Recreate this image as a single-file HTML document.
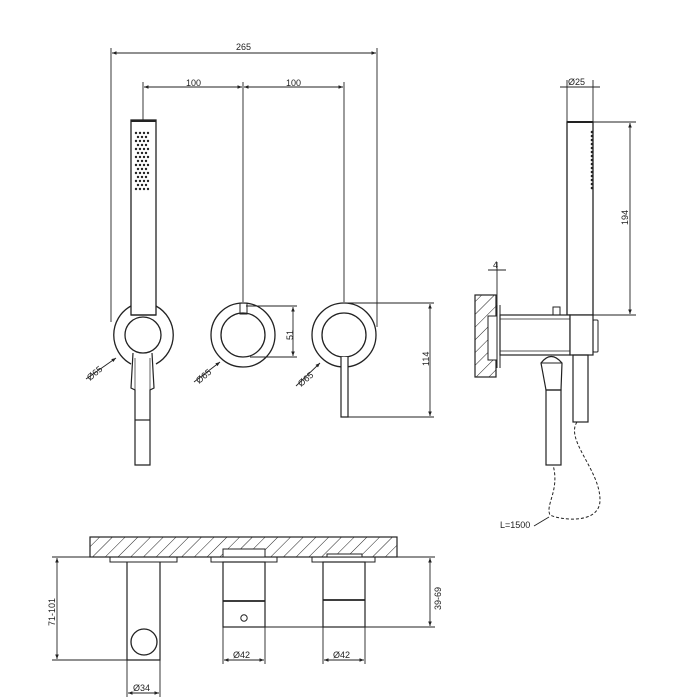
<!DOCTYPE html>
<html><head><style>html,body{margin:0;padding:0;background:#fff}svg{display:block}</style></head>
<body>
<svg width="700" height="700" viewBox="0 0 700 700" xmlns="http://www.w3.org/2000/svg" font-family="Liberation Sans, sans-serif" font-size="9" fill="none" stroke="#222" stroke-width="1.2">
<defs>
<marker id="a" viewBox="0 0 10 10" refX="10" refY="5" markerWidth="7" markerHeight="5" orient="auto-start-reverse"><path d="M0,1 L10,5 L0,9z" fill="#222" stroke="none"/></marker>
<pattern id="h" width="9" height="9" patternUnits="userSpaceOnUse" patternTransform="rotate(45)"><line x1="0" y1="0" x2="0" y2="9" stroke="#222" stroke-width="1"/></pattern>
</defs>
<g stroke-width="0.9">
<!-- top dims -->
<line x1="111" y1="48" x2="111" y2="322"/><line x1="377" y1="48" x2="377" y2="327"/>
<line x1="112" y1="53" x2="376" y2="53" marker-start="url(#a)" marker-end="url(#a)"/>
<line x1="143" y1="82" x2="143" y2="120"/><line x1="243" y1="82" x2="243" y2="302"/><line x1="344" y1="82" x2="344" y2="302"/>
<line x1="144" y1="87" x2="242" y2="87" marker-start="url(#a)" marker-end="url(#a)"/>
<line x1="244" y1="87" x2="343" y2="87" marker-start="url(#a)" marker-end="url(#a)"/>
</g>
<g fill="#222" stroke="none" font-size="9"><text x="236" y="50">265</text><text x="186" y="86">100</text><text x="286" y="86">100</text></g>
<!-- hand shower front -->
<rect x="131" y="120" width="25" height="195" stroke-width="1.3"/>
<line x1="131" y1="121" x2="156" y2="121" stroke-width="2"/>
<g fill="#222" stroke="none">
<g id="dr"><circle cx="136" cy="133" r="1.2"/><circle cx="140" cy="133" r="1.2"/><circle cx="144" cy="133" r="1.2"/><circle cx="148" cy="133" r="1.2"/><circle cx="138" cy="137" r="1.2"/><circle cx="142" cy="137" r="1.2"/><circle cx="146" cy="137" r="1.2"/></g>
<use href="#dr" y="8"/><use href="#dr" y="16"/><use href="#dr" y="24"/><use href="#dr" y="32"/><use href="#dr" y="40"/><use href="#dr" y="48"/>
<circle cx="136" cy="189" r="1.2"/><circle cx="140" cy="189" r="1.2"/><circle cx="144" cy="189" r="1.2"/><circle cx="148" cy="189" r="1.2"/>
</g>
<!-- left rosette -->
<path d="M131,306 A33,33 0 0 0 131,364 M156,306 A33,33 0 0 1 156,364" stroke-width="1.3"/>
<line x1="131" y1="315" x2="156" y2="315"/>
<circle cx="143" cy="335" r="18" fill="#fff" stroke-width="1.3"/>
<path d="M133,353 L131,388 L135,390 L135,465 L150,465 L150,390 L154,388 L152,353" stroke-width="1.2"/>
<line x1="135" y1="420" x2="150" y2="420"/>
<line x1="135" y1="358" x2="135" y2="390" stroke-width="0.7"/><line x1="150" y1="358" x2="150" y2="390" stroke-width="0.7"/>
<!-- middle rosette -->
<circle cx="243" cy="335" r="32" stroke-width="1.3"/>
<circle cx="243" cy="335" r="22" stroke-width="1.3"/>
<rect x="240" y="303" width="7" height="11" stroke-width="1"/>
<!-- right rosette -->
<circle cx="344" cy="335" r="32" stroke-width="1.3"/>
<circle cx="344" cy="335" r="22" stroke-width="1.3"/>
<path d="M341,357 L341,417 L348,417 L348,357" fill="#fff" stroke-width="1.2"/>
<!-- dims 51, 114 -->
<g stroke-width="0.9">
<line x1="246" y1="306" x2="297" y2="306"/><line x1="250" y1="357" x2="297" y2="357"/>
<line x1="293" y1="307" x2="293" y2="356" marker-start="url(#a)" marker-end="url(#a)"/>
<line x1="346" y1="303" x2="434" y2="303"/><line x1="348" y1="417" x2="434" y2="417"/>
<line x1="430" y1="304" x2="430" y2="416" marker-start="url(#a)" marker-end="url(#a)"/>
<line x1="86" y1="379" x2="116" y2="358" marker-end="url(#a)"/>
<line x1="194" y1="382" x2="220" y2="362" marker-end="url(#a)"/>
<line x1="296" y1="386" x2="320" y2="363" marker-end="url(#a)"/>
</g>
<g fill="#222" stroke="none" font-size="9">
<text transform="translate(293,340) rotate(-90)">51</text>
<text transform="translate(429,366) rotate(-90)">114</text>
<text transform="translate(90,381) rotate(-40)">Ø65</text>
<text transform="translate(199,384) rotate(-40)">Ø65</text>
<text transform="translate(301,387) rotate(-40)">Ø65</text>
</g>
<!-- side view -->
<g stroke-width="0.9">
<line x1="567" y1="80" x2="567" y2="122"/><line x1="593" y1="80" x2="593" y2="122"/>
<line x1="560" y1="87" x2="600" y2="87"/>
<line x1="593" y1="122" x2="636" y2="122"/><line x1="593" y1="315" x2="636" y2="315"/>
<line x1="630" y1="123" x2="630" y2="314" marker-start="url(#a)" marker-end="url(#a)"/>
<line x1="488" y1="270" x2="506" y2="270"/>
<line x1="497" y1="262" x2="497" y2="305"/>
</g>
<g fill="#222" stroke="none" font-size="9">
<text x="568" y="85">Ø25</text>
<text transform="translate(628,225) rotate(-90)">194</text>
<text x="493" y="268">4</text>
<text x="500" y="528">L=1500</text>
</g>
<rect x="567" y="122" width="26" height="193" stroke-width="1.3"/>
<line x1="567" y1="122" x2="593" y2="122" stroke-width="2"/>
<g fill="#222" stroke="none"><circle cx="592" cy="132" r="1.3"/><circle cx="592" cy="136" r="1.3"/><circle cx="592" cy="140" r="1.3"/><circle cx="592" cy="144" r="1.3"/><circle cx="592" cy="148" r="1.3"/><circle cx="592" cy="152" r="1.3"/><circle cx="592" cy="156" r="1.3"/><circle cx="592" cy="160" r="1.3"/><circle cx="592" cy="164" r="1.3"/><circle cx="592" cy="168" r="1.3"/><circle cx="592" cy="172" r="1.3"/><circle cx="592" cy="176" r="1.3"/><circle cx="592" cy="180" r="1.3"/><circle cx="592" cy="184" r="1.3"/><circle cx="592" cy="188" r="1.3"/></g>
<rect x="475" y="295" width="21" height="82" fill="url(#h)" stroke-width="1.2"/>
<line x1="497" y1="305" x2="497" y2="368" stroke-width="1"/>
<line x1="500" y1="305" x2="500" y2="368" stroke-width="1"/>
<rect x="488" y="316" width="9" height="44" fill="#fff" stroke-width="1"/>
<rect x="500" y="315" width="70" height="40" fill="#fff" stroke-width="1.2"/>
<line x1="500" y1="319" x2="570" y2="319" stroke-width="0.8"/><line x1="500" y1="351" x2="570" y2="351" stroke-width="0.8"/>
<rect x="553" y="307" width="7" height="8" stroke-width="1"/>
<rect x="570" y="315" width="23" height="40" fill="#fff" stroke-width="1.2"/>
<rect x="593" y="320" width="5" height="32" rx="1" stroke-width="1"/>
<path d="M541,363 Q551,350 562,363 L561,390 L546,390 Z" fill="#fff" stroke-width="1.2"/>
<line x1="541" y1="363" x2="562" y2="363" stroke-width="1"/>
<rect x="546" y="390" width="15" height="75" stroke-width="1.2"/>
<rect x="573" y="355" width="15" height="67" stroke-width="1.2"/>
<path d="M577,422 C565,440 600,470 600,500 C600,525 560,520 550,515 C545,505 560,490 553,465" stroke-dasharray="3,2" stroke-width="1"/>
<line x1="534" y1="526" x2="549" y2="517" stroke-width="0.9"/>
<!-- bottom view -->
<rect x="90" y="537" width="307" height="20" fill="url(#h)" stroke-width="1.2"/>
<rect x="223" y="549" width="42" height="8" fill="#fff" stroke-width="1"/>
<rect x="327" y="554" width="35" height="3" fill="#fff" stroke-width="1"/>
<rect x="110" y="557" width="67" height="5" stroke-width="1"/>
<rect x="211" y="557" width="66" height="5" stroke-width="1"/>
<rect x="312" y="557" width="63" height="5" stroke-width="1"/>
<path d="M127,562 L127,660 L160,660 L160,562" stroke-width="1.2"/>
<circle cx="144" cy="642" r="13" fill="#fff" stroke-width="1.3"/>
<rect x="223" y="562" width="42" height="65" stroke-width="1.2"/>
<line x1="223" y1="601" x2="265" y2="601" stroke-width="1.8"/>
<circle cx="244" cy="618" r="3.2" stroke-width="1"/>
<rect x="323" y="562" width="42" height="65" stroke-width="1.2"/>
<line x1="323" y1="600" x2="365" y2="600" stroke-width="1.8"/>
<g stroke-width="0.9">
<line x1="52" y1="557" x2="90" y2="557"/><line x1="52" y1="660" x2="127" y2="660"/>
<line x1="57" y1="558" x2="57" y2="659" marker-start="url(#a)" marker-end="url(#a)"/>
<line x1="397" y1="557" x2="435" y2="557"/><line x1="265" y1="627" x2="435" y2="627"/>
<line x1="430" y1="558" x2="430" y2="626" marker-start="url(#a)" marker-end="url(#a)"/>
<line x1="127" y1="660" x2="127" y2="697"/><line x1="160" y1="660" x2="160" y2="697"/>
<line x1="128" y1="693" x2="159" y2="693" marker-start="url(#a)" marker-end="url(#a)"/>
<line x1="223" y1="627" x2="223" y2="664"/><line x1="265" y1="627" x2="265" y2="664"/>
<line x1="224" y1="660" x2="264" y2="660" marker-start="url(#a)" marker-end="url(#a)"/>
<line x1="323" y1="627" x2="323" y2="664"/><line x1="365" y1="627" x2="365" y2="664"/>
<line x1="324" y1="660" x2="364" y2="660" marker-start="url(#a)" marker-end="url(#a)"/>
</g>
<g fill="#222" stroke="none" font-size="9">
<text transform="translate(55,626) rotate(-90)">71-101</text>
<text transform="translate(441,610) rotate(-90)">39-69</text>
<text x="133" y="691">Ø34</text>
<text x="233" y="658">Ø42</text>
<text x="333" y="658">Ø42</text>
</g>
</svg>
</body></html>
